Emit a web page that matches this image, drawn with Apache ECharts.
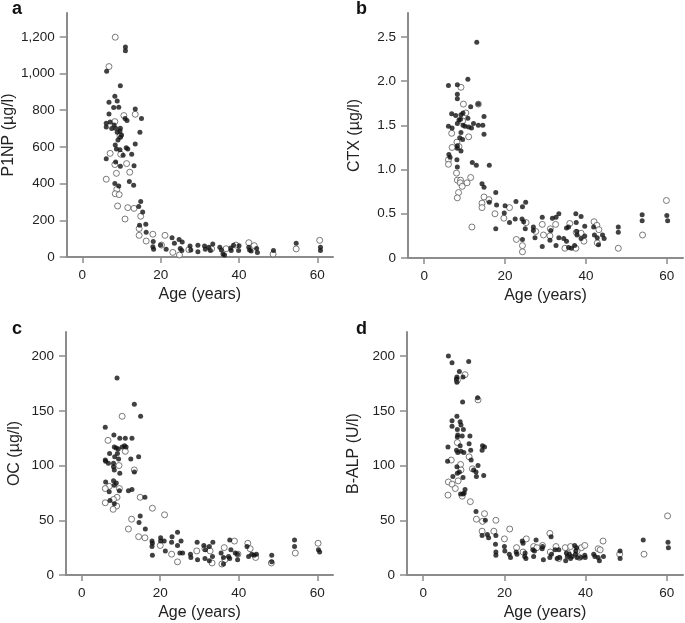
<!DOCTYPE html>
<html><head><meta charset="utf-8">
<script src="https://cdn.jsdelivr.net/npm/echarts@6/dist/echarts.min.js"></script>
<style>html,body{margin:0;padding:0;background:#fff}#c{width:685px;height:623px}</style>
</head><body><div id="c"></div>
<script>
// ---- data: [age (years), value] ----
const xTicks = [0, 20, 40, 60];
const aTicks = [0, 200, 400, 600, 800, 1000, 1200];
const bTicks = [0, 0.5, 1.0, 1.5, 2.0, 2.5];
const cTicks = [0, 50, 100, 150, 200];
const dTicks = [0, 50, 100, 150, 200];

const aFilled = [[11.0,1145],[11.0,1124],[6.2,1013],[9.7,933],[8.3,876],[8.9,851],[6.8,844],[8.0,815],[9.3,816],[13.5,807],[15.1,755],[10.9,755],[11.4,744],[6.8,780],[7.1,736],[6.1,729],[6.1,709],[8.1,720],[8.5,702],[9.7,702],[9.6,687],[7.5,700],[8.9,680],[10.0,665],[9.7,653],[14.7,680],[9.1,638],[13.5,616],[8.4,611],[8.7,589],[9.6,584],[11.2,596],[11.6,589],[10.4,555],[12.6,560],[6.1,536],[8.5,518],[13.2,498],[9.7,495],[12.0,411],[8.3,400],[9.3,387],[13.1,391],[14.9,302],[14.4,275],[15.4,245],[14.6,173],[16.2,178],[16.3,135],[18.1,84],[18.0,56],[18.2,42],[20.0,65],[21.4,42],[22.9,105],[23.5,75],[24.7,96],[25.5,82],[25.0,47],[25.4,35],[27.5,60],[27.7,38],[29.5,64],[29.5,29],[31.2,60],[31.4,42],[32.3,53],[33.3,71],[32.7,35],[35.1,53],[35.5,38],[35.9,16],[36.3,11],[37.9,49],[38.0,35],[38.6,64],[40.0,62],[39.9,35],[42.5,53],[42.7,38],[43.1,33],[44.5,47],[44.7,24],[48.8,35],[54.6,75],[60.8,53],[60.8,35]];
const aOpen = [[8.4,1198],[6.8,1038],[8.3,738],[10.6,771],[13.5,778],[9.8,560],[7.1,565],[8.3,504],[8.7,456],[11.3,509],[12.1,462],[6.1,424],[8.8,369],[8.4,345],[9.4,340],[9.0,278],[11.6,269],[13.2,265],[10.9,207],[14.9,222],[14.5,155],[14.5,118],[16.3,87],[18.0,124],[21.1,118],[20.2,65],[23.1,25],[24.8,11],[27.2,40],[33.0,45],[36.7,45],[39.2,65],[42.5,78],[43.9,62],[48.7,16],[54.6,44],[60.6,91],[9.6,660]];

const bFilled = [[13.0,2.44],[10.8,2.02],[6.0,1.95],[8.2,1.96],[8.2,1.85],[8.2,1.80],[13.4,1.74],[11.5,1.71],[6.8,1.63],[7.8,1.61],[9.1,1.62],[9.6,1.64],[10.8,1.58],[12.2,1.52],[14.8,1.60],[6.0,1.49],[6.9,1.47],[8.2,1.52],[8.6,1.56],[9.0,1.57],[9.6,1.50],[10.1,1.49],[11.0,1.48],[11.7,1.47],[13.4,1.50],[14.5,1.50],[14.8,1.40],[9.1,1.42],[8.8,1.36],[9.5,1.34],[8.2,1.27],[8.2,1.24],[9.1,1.21],[6.1,1.17],[6.4,1.14],[8.1,1.11],[11.9,1.08],[12.9,1.05],[16.1,1.05],[8.2,1.03],[14.3,0.84],[14.8,0.80],[17.7,0.74],[16.1,0.63],[17.9,0.60],[17.7,0.33],[20.0,0.59],[19.8,0.51],[21.1,0.40],[22.7,0.64],[24.3,0.58],[25.1,0.63],[22.5,0.44],[24.2,0.44],[24.6,0.41],[25.0,0.33],[24.3,0.21],[27.0,0.35],[27.0,0.31],[27.4,0.23],[29.2,0.46],[29.2,0.13],[31.1,0.20],[31.3,0.31],[31.7,0.45],[32.6,0.46],[33.3,0.50],[32.6,0.14],[33.3,0.23],[34.5,0.22],[35.2,0.34],[35.7,0.35],[35.2,0.19],[35.7,0.12],[36.4,0.11],[37.5,0.50],[38.8,0.47],[37.6,0.40],[37.7,0.30],[37.8,0.26],[37.2,0.14],[38.8,0.22],[39.7,0.25],[39.7,0.36],[41.9,0.35],[42.1,0.26],[42.8,0.23],[43.1,0.15],[44.1,0.26],[44.5,0.22],[48.0,0.35],[48.0,0.29],[53.9,0.49],[53.9,0.42],[60.0,0.48],[60.2,0.42]];
const bOpen = [[9.1,1.93],[9.7,1.74],[10.3,1.64],[6.8,1.41],[11.0,1.37],[6.9,1.25],[8.1,1.31],[8.6,1.26],[6.0,1.11],[6.0,1.06],[8.0,0.96],[8.2,0.88],[9.0,0.88],[8.9,0.85],[9.4,0.81],[10.6,0.85],[11.5,0.91],[8.5,0.74],[8.2,0.68],[11.8,0.35],[14.8,0.69],[16.0,0.66],[14.3,0.62],[14.3,0.57],[17.5,0.50],[19.7,0.45],[21.1,0.57],[25.2,0.40],[22.8,0.21],[24.3,0.14],[24.3,0.07],[27.6,0.30],[29.2,0.38],[29.5,0.26],[31.1,0.25],[31.2,0.33],[32.5,0.38],[34.8,0.11],[36.0,0.39],[37.6,0.29],[37.5,0.11],[38.8,0.28],[39.5,0.19],[42.0,0.41],[42.7,0.37],[43.2,0.32],[42.8,0.17],[48.0,0.11],[54.0,0.26],[59.9,0.65],[13.4,1.74],[9.5,1.55]];

const cFilled = [[9.0,180],[13.4,156],[15.0,145],[6.0,135],[8.2,128],[9.7,125],[11.1,125],[12.8,125],[10.9,118],[10.3,117],[11.3,117],[8.3,117],[8.8,116],[9.3,115],[7.1,111],[9.1,111],[12.5,106],[14.5,108],[8.4,108],[9.4,106],[6.0,105],[6.1,104],[6.8,102],[8.1,102],[8.1,99],[9.7,93],[13.4,94],[8.3,96],[6.1,85],[8.1,86],[8.8,84],[8.3,82],[7.0,76],[9.6,77],[11.9,77],[12.8,78],[16.1,71],[7.2,68],[8.3,65],[14.9,54],[14.6,48],[16.2,42],[17.9,31],[18.0,29],[17.9,26],[18.0,18],[20.1,34],[20.1,31],[21.0,31],[21.3,22],[23.0,35],[22.9,30],[24.4,39],[24.4,27],[25.3,31],[25.0,20],[25.7,20],[27.7,19],[27.8,16],[29.4,30],[29.5,14],[31.1,27],[31.5,23],[31.4,15],[32.5,26],[32.5,13],[33.4,30],[33.3,17],[35.5,20],[36.1,16],[36.1,10],[37.7,32],[38.0,23],[37.4,17],[37.7,15],[39.1,20],[39.7,19],[39.7,14],[42.1,26],[42.5,17],[43.3,19],[43.9,18],[44.5,19],[48.4,18],[48.4,12],[54.2,32],[54.2,26],[60.3,23],[60.6,21]];
const cOpen = [[10.3,145],[6.7,123],[11.1,113],[9.5,100],[13.4,96],[7.0,81],[9.6,79],[6.0,79],[9.0,71],[8.1,69],[8.9,63],[6.0,66],[8.0,60],[14.9,71],[18.0,61],[21.1,55],[12.7,51],[11.9,42],[14.5,35],[16.1,34],[20.0,27],[22.9,19],[24.4,12],[29.3,22],[31.4,24],[32.7,22],[33.2,11],[36.3,25],[36.5,14],[38.9,31],[39.8,19],[42.3,29],[42.9,24],[44.3,16],[48.3,11],[54.4,20],[60.2,29],[35.7,10]];

const dFilled = [[6.2,200],[7.1,194],[11.2,195],[8.9,186],[8.3,181],[8.2,179],[8.3,176],[9.8,181],[13.4,162],[9.7,158],[8.3,145],[7.1,141],[7.1,136],[9.1,140],[9.3,137],[8.4,133],[9.9,133],[8.5,128],[8.4,126],[9.6,127],[11.5,127],[6.1,117],[9.1,118],[11.3,120],[8.2,114],[8.5,112],[10.0,112],[11.7,114],[14.6,118],[15.1,117],[14.5,114],[9.3,113],[6.0,104],[13.5,100],[11.8,105],[12.4,96],[13.0,94],[8.3,99],[7.3,90],[9.8,89],[13.1,90],[14.9,91],[8.4,93],[8.9,94],[10.3,78],[9.2,74],[9.8,74],[10.1,75],[13.0,58],[15.3,50],[14.5,36],[15.8,37],[16.1,34],[17.9,36],[17.8,28],[17.9,21],[17.9,18],[20.0,26],[20.1,22],[21.2,19],[21.5,16],[22.9,21],[23.1,19],[24.4,31],[24.6,29],[25.1,20],[25.0,17],[25.3,15],[27.0,23],[27.4,22],[27.2,17],[27.8,32],[29.4,26],[29.3,24],[29.6,14],[31.2,16],[31.6,19],[31.5,35],[32.5,23],[33.0,15],[33.4,23],[33.6,16],[35.3,20],[35.5,17],[36.0,19],[35.1,13],[36.7,17],[36.3,15],[37.3,27],[37.8,25],[37.6,22],[37.5,19],[37.9,16],[38.8,16],[39.8,18],[39.9,16],[42.0,19],[42.3,17],[43.1,16],[43.4,13],[44.4,17],[48.5,22],[48.5,15],[54.2,32],[60.3,30],[60.4,25]];
const dOpen = [[10.3,183],[13.5,160],[8.4,121],[11.3,108],[12.1,97],[6.9,105],[9.2,101],[9.3,96],[8.6,86],[6.2,85],[7.1,83],[7.9,79],[9.6,72],[6.1,73],[11.6,67],[13.1,51],[15.1,56],[14.6,49],[14.5,40],[17.9,50],[17.4,40],[21.3,42],[20.0,33],[23.0,25],[25.4,33],[24.6,21],[27.2,26],[28.0,25],[29.4,27],[31.2,38],[31.3,21],[32.7,26],[33.4,15],[35.0,25],[36.3,26],[35.6,20],[37.9,22],[39.0,25],[39.8,27],[38.5,16],[43.1,24],[43.6,23],[44.3,31],[48.4,19],[54.4,19],[60.2,54],[8.4,178]];

const panels = [
  {letter:'a', name:'P1NP (\u00b5g/l)', ticks:aTicks, ymax:1330, filled:aFilled, open:aOpen,
   grid:{left:66, top:13, width:267, height:244}, lx:12, ly:0, fmt:v=>v.toLocaleString('en-US')},
  {letter:'b', name:'CTX (\u00b5g/l)', ticks:bTicks, ymax:2.77, filled:bFilled, open:bOpen,
   grid:{left:408, top:13, width:275, height:245}, lx:356, ly:0, fmt:v=>v===0?'0':v.toFixed(1)},
  {letter:'c', name:'OC (\u00b5g/l)', ticks:cTicks, ymax:222, filled:cFilled, open:cOpen,
   grid:{left:66, top:332, width:267, height:243}, lx:12, ly:320, fmt:v=>String(v)},
  {letter:'d', name:'B-ALP (U/l)', ticks:dTicks, ymax:222, filled:dFilled, open:dOpen,
   grid:{left:407, top:332, width:276, height:243}, lx:356, ly:320, fmt:v=>String(v)}
];

const FONT = "'Liberation Sans', Arial, Helvetica, sans-serif";
const AXC = '#8c8c8c';
const grids = [], xAxes = [], yAxes = [], series = [], graphics = [];
panels.forEach((p, i) => {
  grids.push(Object.assign({containLabel:false}, p.grid));
  xAxes.push({
    gridIndex:i, type:'value', min:-4, max:64,
    axisLine:{show:true, onZero:false, lineStyle:{color:AXC, width:2}},
    axisTick:{show:true, length:6, customValues:xTicks, lineStyle:{color:AXC, width:1.5}},
    axisLabel:{customValues:xTicks, color:'#222', fontSize:13.5, fontFamily:FONT, margin:11},
    splitLine:{show:false},
    name:'Age (years)', nameLocation:'middle', nameGap:30,
    nameTextStyle:{fontSize:16, color:'#222', fontFamily:FONT}
  });
  yAxes.push({
    gridIndex:i, type:'value', min:0, max:p.ymax,
    axisLine:{show:true, onZero:false, lineStyle:{color:AXC, width:2}},
    axisTick:{show:true, length:7, customValues:p.ticks, lineStyle:{color:AXC, width:1.5}},
    axisLabel:{customValues:p.ticks, color:'#222', fontSize:13.5, fontFamily:FONT, margin:12, formatter:p.fmt},
    splitLine:{show:false},
    name:p.name, nameLocation:'middle', nameGap: i%2===0 ? 43 : 45,
    nameTextStyle:{fontSize:16, color:'#222', fontFamily:FONT}
  });
  series.push({
    type:'scatter', xAxisIndex:i, yAxisIndex:i, data:p.open, symbol:'circle', symbolSize:6,
    itemStyle:{color:'#fff', borderColor:'#5a5a5a', borderWidth:1}, silent:true, animation:false
  });
  series.push({
    type:'scatter', xAxisIndex:i, yAxisIndex:i, data:p.filled, symbol:'circle', symbolSize:5,
    itemStyle:{color:'#111'}, silent:true, animation:false
  });
  graphics.push({type:'text', left:p.lx, top:p.ly,
    style:{text:p.letter, font:'bold 18px ' + FONT, fill:'#111'}});
});

const chart = echarts.init(document.getElementById('c'), null, {renderer:'canvas'});
chart.setOption({
  animation:false, backgroundColor:'#fff',
  grid:grids, xAxis:xAxes, yAxis:yAxes, series:series, graphic:graphics
});
</script></body></html>
